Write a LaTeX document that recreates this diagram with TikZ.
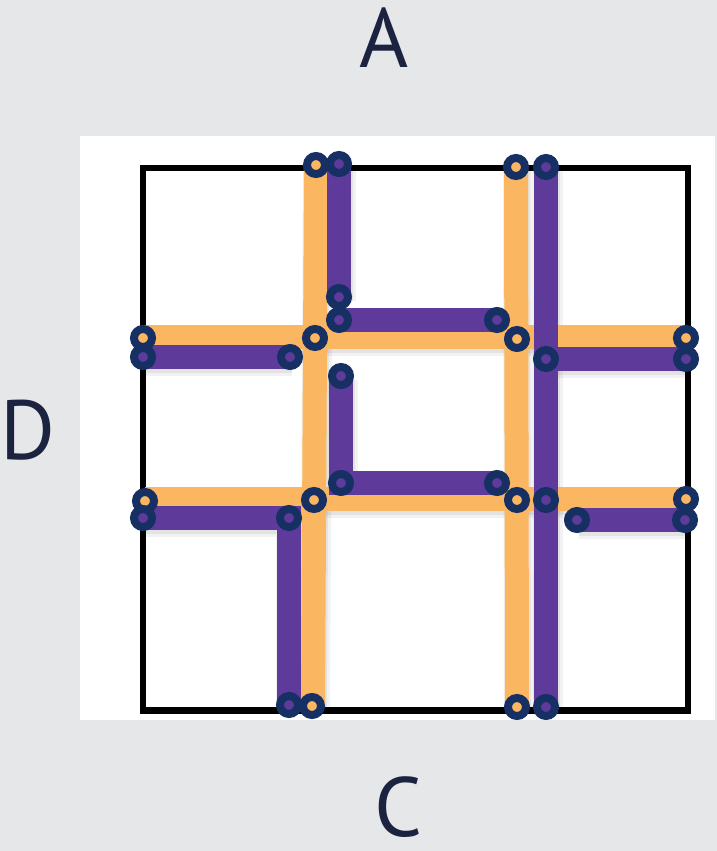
\documentclass[tikz,border=0pt]{standalone}
\usepackage{fontspec}
\newfontfamily\labfont{PT Sans}
\definecolor{bggray}{HTML}{E6E7E9}
\definecolor{orng}{HTML}{FAB660}
\definecolor{purp}{HTML}{5E3A9B}
\definecolor{navy}{HTML}{173064}
\definecolor{ink}{HTML}{1C2340}
\tikzset{
  oline/.style={draw=orng,line width=24pt},
  pline/.style={draw=purp,line width=24pt,line join=miter},
  shad/.style={draw=black,line width=30pt,opacity=0.05,line join=miter,transform canvas={shift={(2pt,-4pt)}}},
  shadb/.style={draw=black,line width=24pt,opacity=0.06,line join=miter,transform canvas={shift={(2pt,-4pt)}}},
  ocirc/.style={circle,draw=navy,line width=8pt,fill=orng,minimum size=18pt,inner sep=0pt},
  pcirc/.style={circle,draw=navy,line width=8pt,fill=purp,minimum size=18pt,inner sep=0pt},
  lab/.style={font=\labfont\fontsize{84}{88}\selectfont,text=ink,inner sep=0pt},
}
\begin{document}
\begin{tikzpicture}[x=1pt,y=-1pt]
\useasboundingbox (0,0) rectangle (717,851);
\fill[bggray] (0,0) rectangle (717,851);
\fill[white] (80,136) rectangle (715,720);
\draw[line width=6.5pt] (143,168) rectangle (688,710.5);

% labels
\node[lab] (labA) at (384.5,38) {A};
\node[lab] (labD) at (27.5,430) {D};
\node[lab] (labC) at (398,807) {C};

% orange coordinates
\coordinate (oT1) at (316,165);
\coordinate (oB1) at (313,706);
\coordinate (oT2) at (516,167);
\coordinate (oB2) at (517,707);
\coordinate (oL1) at (143,337);
\coordinate (oR1) at (686,337);
\coordinate (oL2) at (145,499);
\coordinate (oR2) at (686,499);
\coordinate (oJ11) at (315,338);
\coordinate (oJ21) at (517,339);
\coordinate (oJ12) at (314,500);
\coordinate (oJ22) at (517,500);

% purple coordinates
\coordinate (p1a) at (339,164);
\coordinate (p1b) at (339,297);
\coordinate (p2a) at (339,320);
\coordinate (p2b) at (497,320);
\coordinate (p3a) at (143,357);
\coordinate (p3b) at (290,357);
\coordinate (p4a) at (546,167);
\coordinate (p4m1) at (546,359);
\coordinate (p4m2) at (546,500);
\coordinate (p4b) at (546,707);
\coordinate (p5b) at (686,359);
\coordinate (p6a) at (341,376);
\coordinate (p6c) at (341,483);
\coordinate (p6b) at (497,483);
\coordinate (p7a) at (143,518);
\coordinate (p7c) at (289,518);
\coordinate (p7b) at (289,705);
\coordinate (p8a) at (577,520);
\coordinate (p8b) at (685,520);

% shadows
\foreach \s in {shad,shadb}{
  \draw[\s] (oT1) -- (oB1);
  \draw[\s] (oT2) -- (oB2);
  \draw[\s] (oL1) -- (oR1);
  \draw[\s] (oL2) -- (oR2);
  \draw[\s] (p1a) -- (p1b);
  \draw[\s] (p2a) -- (p2b);
  \draw[\s] (p3a) -- (p3b);
  \draw[\s] (p4a) -- (p4b);
  \draw[\s] (p4m1) -- (p5b);
  \draw[\s] (p6a) -- (p6c) -- (p6b);
  \draw[\s] (p7a) -- (p7c) -- (p7b);
  \draw[\s] (p8a) -- (p8b);
}

% orange lines
\draw[oline] (oT1) -- (oB1);
\draw[oline] (oT2) -- (oB2);
\draw[oline] (oL1) -- (oR1);
\draw[oline] (oL2) -- (oR2);

% purple lines
\draw[pline] (p1a) -- (p1b);
\draw[pline] (p2a) -- (p2b);
\draw[pline] (p3a) -- (p3b);
\draw[pline] (p4a) -- (p4b);
\draw[pline] (p4m1) -- (p5b);
\draw[pline] (p6a) -- (p6c) -- (p6b);
\draw[pline] (p7a) -- (p7c) -- (p7b);
\draw[pline] (p8a) -- (p8b);

% orange joints
\node[ocirc] (co1) at (oT1) {};
\node[ocirc] (co2) at (oT2) {};
\node[ocirc] (co3) at (143,338) {};
\node[ocirc] (co4) at (oJ11) {};
\node[ocirc] (co5) at (oJ21) {};
\node[ocirc] (co6) at (686,338) {};
\node[ocirc] (co7) at (145,501) {};
\node[ocirc] (co8) at (oJ12) {};
\node[ocirc] (co9) at (oJ22) {};
\node[ocirc] (co10) at (oR2) {};
\node[ocirc] (co11) at (312,706) {};
\node[ocirc] (co12) at (oB2) {};

% purple joints
\foreach \c in {p1a,p1b,p2a,p2b,p3a,p3b,p4a,p4m1,p4m2,p4b,p5b,p6a,p6c,p6b,p7a,p7c,p7b,p8a,p8b}
  \node[pcirc] (c\c) at (\c) {};
\end{tikzpicture}
\end{document}
